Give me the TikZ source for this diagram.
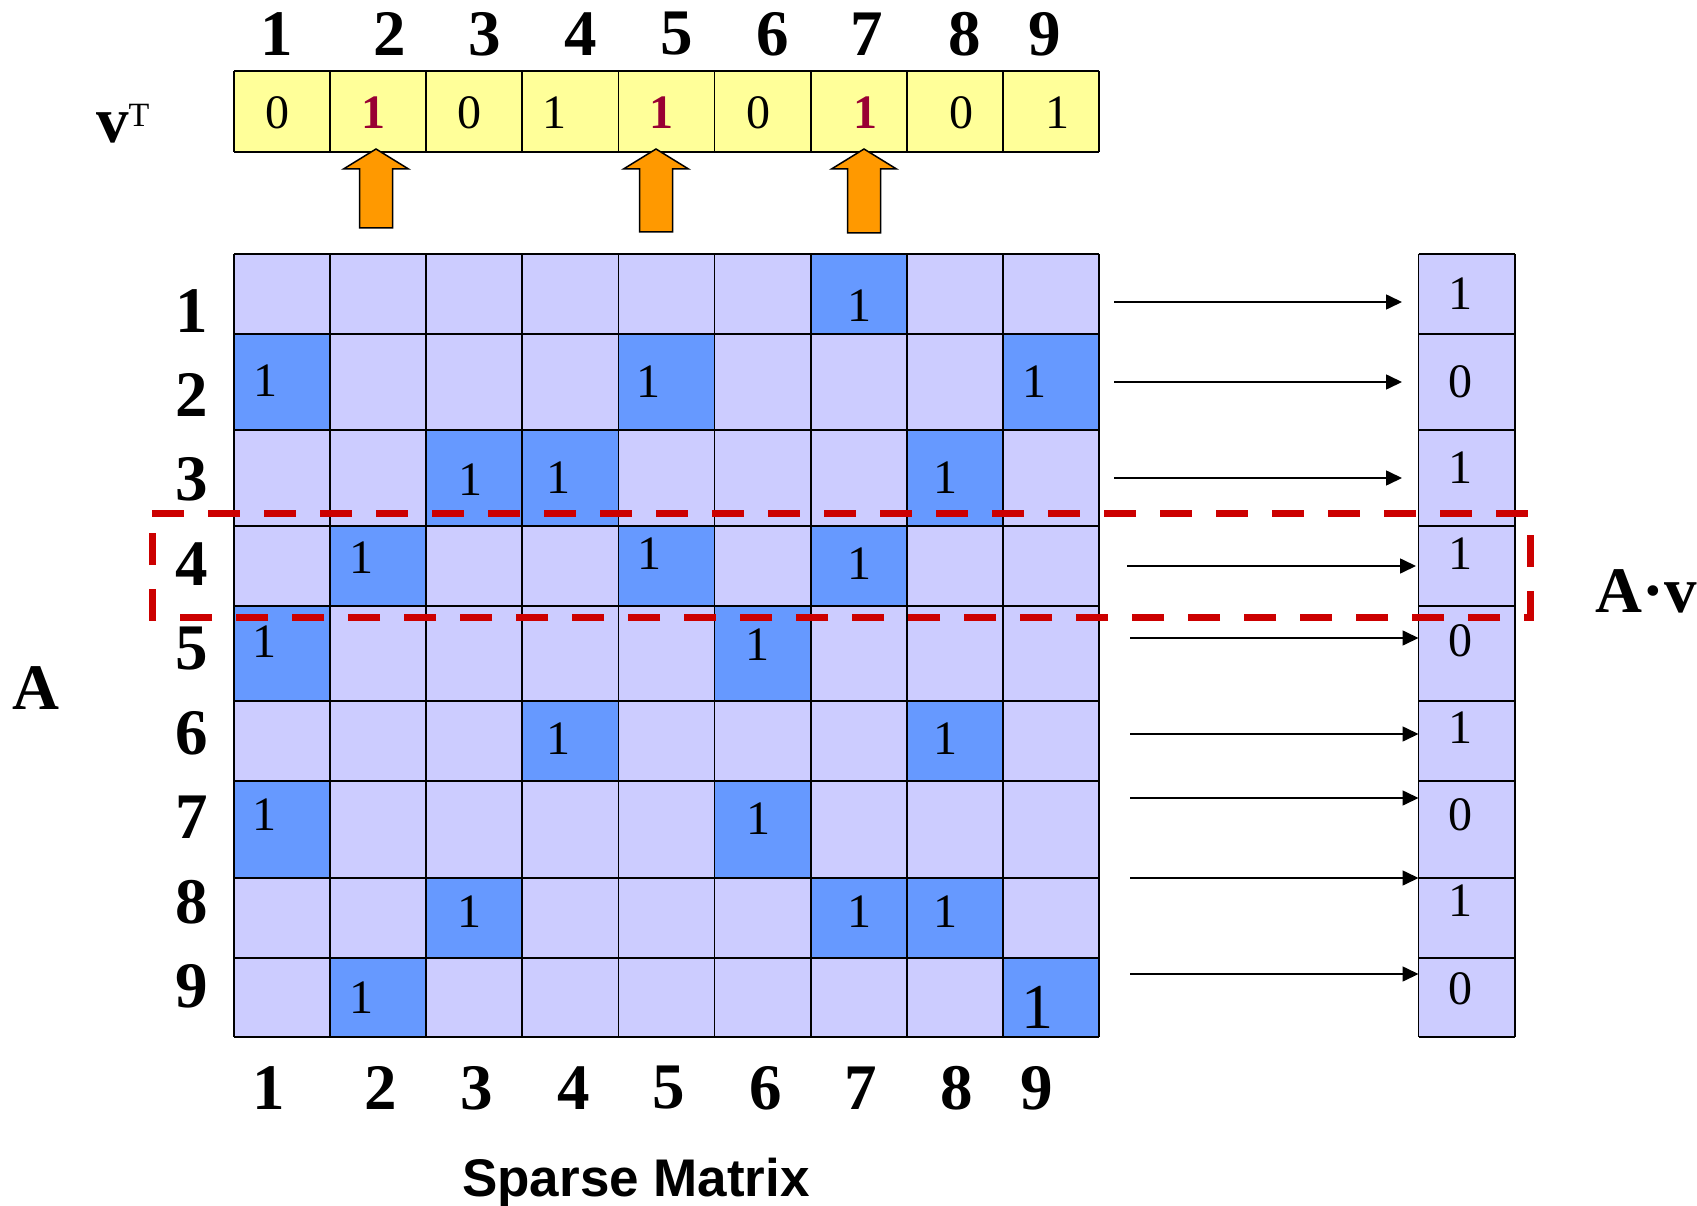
\documentclass[tikz,border=0pt]{standalone}
\usepackage{fontspec}
\setmainfont{Liberation Serif}
\newfontfamily\headfont{Liberation Sans}
\usetikzlibrary{arrows.meta}
\definecolor{lav}{HTML}{CCCCFF}
\definecolor{nzblue}{HTML}{6699FF}
\definecolor{vecyellow}{HTML}{FFFF99}
\definecolor{arrorange}{HTML}{FF9900}
\definecolor{hitred}{HTML}{990033}
\definecolor{boxred}{HTML}{CC0000}
\def\rowy{{254,334,430,526,606,701,781,878,958,1037}}
\begin{document}
\begin{tikzpicture}[x=1pt,y=-1pt,
  big/.style={font=\fontsize{65}{65}\selectfont\bfseries, inner sep=0pt},
  entry/.style={font=\fontsize{48}{48}\selectfont, inner sep=0pt},
  bigentry/.style={font=\fontsize{64}{64}\selectfont, inner sep=0pt},
  plain/.style={},
  hit/.style={text=hitred, font=\fontsize{48}{48}\selectfont\bfseries},
  grid/.style={draw=black, line width=1.8pt},
  pointer/.style={fill=arrorange, draw=black, line width=1.5pt, line join=miter},
  link/.style={-{Triangle[length=16pt,width=15pt]}, line width=1.6pt},
  rowbox/.style={draw=boxred, line width=7pt, dash pattern=on 32pt off 24pt}]
\useasboundingbox (0,0) rectangle (1697,1206);

% the vector v^T
\fill[vecyellow] (234,71) rectangle (1099,152);
\foreach \i in {0,...,9} \draw[grid] ({234+96.1*\i},71) -- ({234+96.1*\i},152);
\draw[grid] (234,71) -- (1099,71) (234,152) -- (1099,152);
\foreach \x/\v/\s [count=\i] in {277/0/plain,373/1/hit,469/0/plain,554/1/plain,661/1/hit,758/0/plain,865/1/hit,961/0/plain,1057/1/plain}
  \node[entry,\s] (v\i) at (\x,113) {\v};
\foreach \x [count=\i] in {277,390,485,581,677,773,867,965,1045} \node[big] (top\i) at (\x,34) {\i};
\node[big, anchor=base west] (vlabel) at (96,143) {v\raisebox{16.6pt}{\fontsize{34}{34}\selectfont\mdseries T}};

\foreach \x/\b in {376/228,656/232,864/233}
  \filldraw[pointer] (\x,149) -- (\x+32.5,169) -- (\x+16.5,169) -- (\x+16.5,\b) -- (\x-16.5,\b) -- (\x-16.5,169) -- (\x-32.5,169) -- cycle;

% the sparse matrix A
\fill[lav] (234,254) rectangle (1099,1037);
\foreach \r/\c/\tx/\ty/\s in {1/7/859/306/entry, 2/1/265/381/entry, 2/5/648/382/entry, 2/9/1034/382/entry,
    3/3/470/480/entry, 3/4/558/478/entry, 3/8/945/478/entry, 4/2/361/558/entry, 4/5/649/554/entry, 4/7/859/564/entry,
    5/1/264/642/entry, 5/6/757/645/entry, 6/4/558/739/entry, 6/8/945/739/entry, 7/1/264/815/entry, 7/6/758/819/entry,
    8/3/469/912/entry, 8/7/859/912/entry, 8/8/945/912/entry, 9/2/361/998/entry, 9/9/1037/1007/bigentry} {
  \pgfmathsetmacro\ya{\rowy[\r-1]}
  \pgfmathsetmacro\yb{\rowy[\r]}
  \fill[nzblue] ({234+96.1*(\c-1)},\ya) rectangle ({234+96.1*\c},\yb);
  \node[\s] (m\r\c) at (\tx,\ty) {1};
}
\foreach \i in {0,...,9} \draw[grid] ({234+96.1*\i},254) -- ({234+96.1*\i},1037);
\foreach \y in {254,334,430,526,606,701,781,878,958,1037} \draw[grid] (234,\y) -- (1099,\y);
\foreach \i in {1,...,9} \node[big] (row\i) at (192,{310.6+84.5*(\i-1)}) {\i};
\foreach \x [count=\i] in {269,381,477,573.5,669,766,861,957,1037} \node[big] (bot\i) at (\x,1088) {\i};
\node[big] (amat) at (36,688) {A};
\node[font=\headfont\fontsize{53}{53}\selectfont\bfseries, inner sep=0pt, anchor=base] (title) at (636,1196) {Sparse Matrix};

% the product A.v
\fill[lav] (1418.5,254) rectangle (1515,1037);
\draw[grid] (1418.5,254) -- (1418.5,1037) (1515,254) -- (1515,1037);
\foreach \y in {254,334,430,526,606,701,781,878,958,1037} \draw[grid] (1418.5,\y) -- (1515,\y);
\foreach \y/\v [count=\i] in {294/1,382/0,468/1,554/1,641/0,728/1,815/0,901/1,989/0}
  \node[entry] (res\i) at (1460,\y) {\v};
\foreach \y/\s/\t [count=\i] in {302/1114/1402,382/1114/1402,478/1114/1402,566/1127/1416,638/1130/1418.5,734/1130/1418.5,798/1130/1418.5,878/1130/1418.5,974/1130/1418.5} {
  \coordinate (p\i) at (\s,\y);
  \coordinate (q\i) at (\t,\y);
  \draw[link] (p\i) -- (q\i);
}
\node[big] (av) at (1646,591) {A·v};

\draw[rowbox] (152,513) -- (1530,513) -- (1530,617) -- (152,617) -- cycle;
\end{tikzpicture}
\end{document}
